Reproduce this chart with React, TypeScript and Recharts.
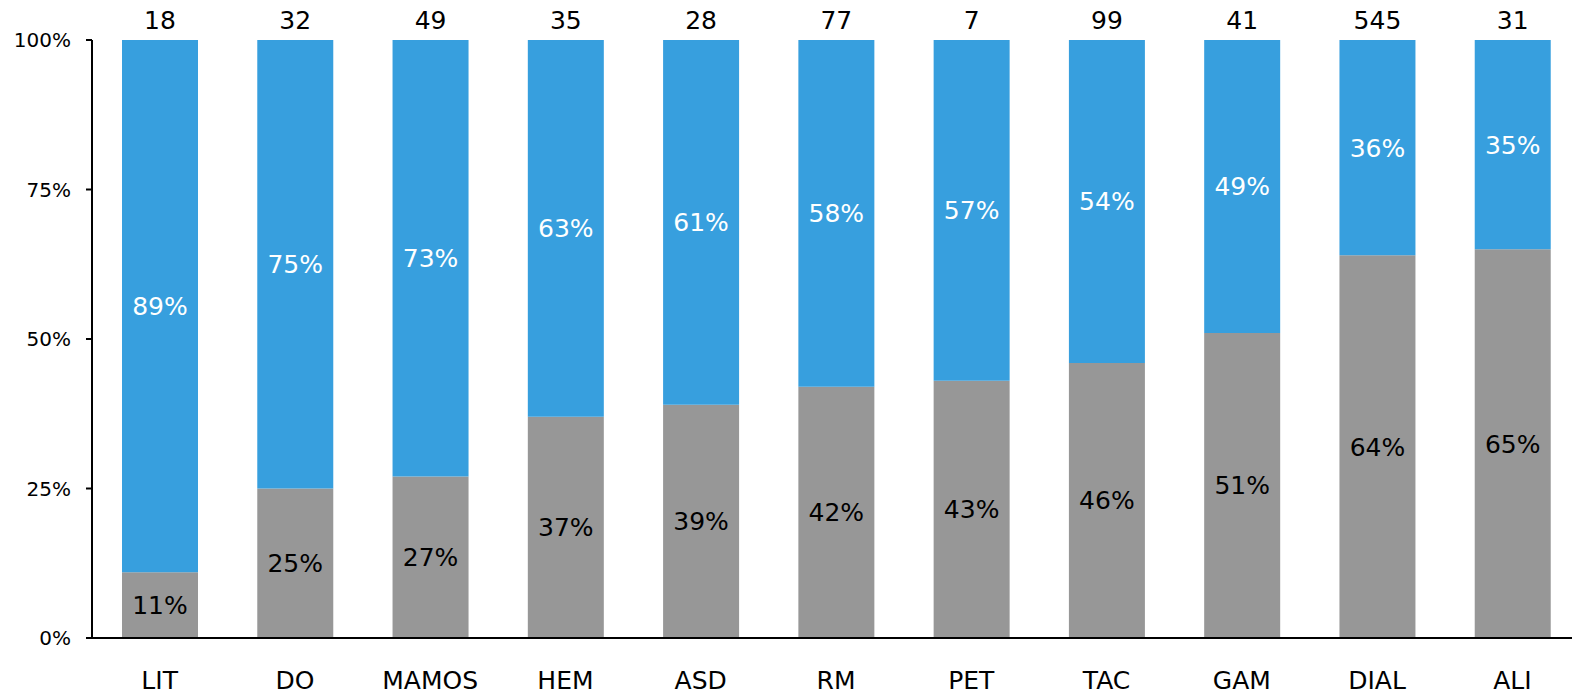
import { Bar, BarChart, LabelList, XAxis, YAxis } from "recharts";

const categories = ["LIT", "DO", "MAMOS", "HEM", "ASD", "RM", "PET", "TAC", "GAM", "DIAL", "ALI"];
const grayShare = [11, 25, 27, 37, 39, 42, 43, 46, 51, 64, 65];
const blueShare = [89, 75, 73, 63, 61, 58, 57, 54, 49, 36, 35];
const totals = [18, 32, 49, 35, 28, 77, 7, 99, 41, 545, 31];
const yTicks = [0, 25, 50, 75, 100];

const BLUE = "#379fde";
const GRAY = "#979797";
const FONT = "'DejaVu Sans', Verdana, sans-serif";

const data = categories.map((name, i) => ({
  name,
  gray: grayShare[i],
  blue: blueShare[i],
  total: totals[i],
}));

function TotalLabel(props: any) {
  const { x, y, width, index } = props;
  return (
    <text
      x={x + width / 2}
      y={y - 20}
      textAnchor="middle"
      dominantBaseline="central"
      fill="#000"
      fontSize={25}
      fontFamily={FONT}
    >
      {totals[index]}
    </text>
  );
}

export default function App() {
  return (
    <div
      style={{
        position: "fixed",
        left: 0,
        top: 0,
        width: 1572,
        height: 692,
        overflow: "hidden",
        background: "#fff",
      }}
    >
      <BarChart
        width={1580}
        height={692}
        data={data}
        margin={{ top: 40, right: 0, left: 0, bottom: 0 }}
        barSize={76}
      >
        <XAxis
          dataKey="name"
          height={54}
          axisLine={{ stroke: "#000", strokeWidth: 2 }}
          tickLine={false}
          tickSize={0}
          tickMargin={33}
          tick={{ fill: "#000", fontSize: 25, fontFamily: FONT }}
          interval={0}
        />
        <YAxis
          width={92}
          domain={[0, 100]}
          ticks={yTicks}
          tickFormatter={(v) => `${v}%`}
          axisLine={{ stroke: "#000", strokeWidth: 2 }}
          tickLine={{ stroke: "#000", strokeWidth: 2 }}
          tickSize={6}
          tickMargin={15}
          tick={{ fill: "#000", fontSize: 20, fontFamily: FONT }}
          allowDataOverflow
        />
        <Bar dataKey="gray" stackId="a" fill={GRAY} isAnimationActive={false}>
          <LabelList
            dataKey="gray"
            position="center"
            formatter={(v: any) => `${v}%`}
            fill="#000"
            fontSize={25}
            fontFamily={FONT}
          />
        </Bar>
        <Bar dataKey="blue" stackId="a" fill={BLUE} isAnimationActive={false}>
          <LabelList
            dataKey="blue"
            position="center"
            formatter={(v: any) => `${v}%`}
            fill="#fff"
            fontSize={25}
            fontFamily={FONT}
          />
          <LabelList dataKey="total" content={<TotalLabel />} />
        </Bar>
      </BarChart>
    </div>
  );
}
